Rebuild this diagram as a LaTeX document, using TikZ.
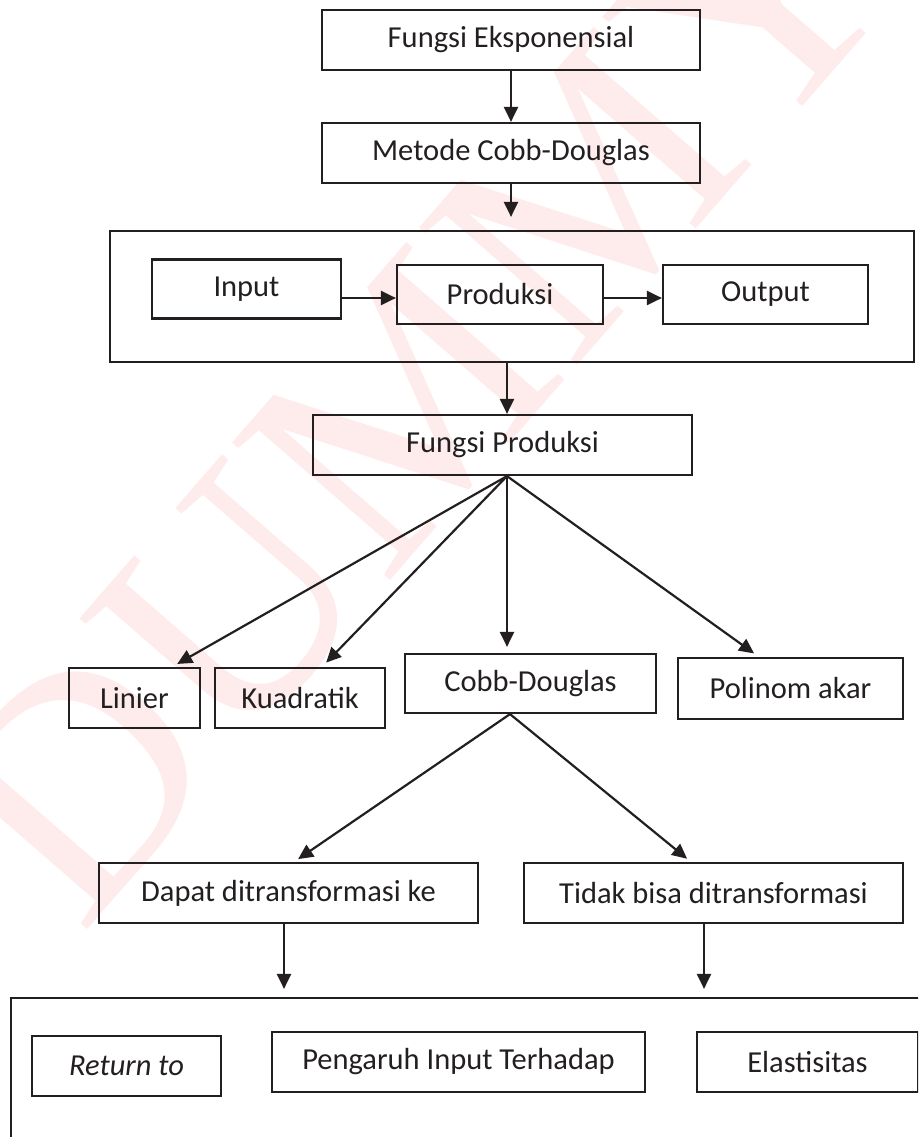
\documentclass[tikz,border=0pt]{standalone}
\usepackage{fontspec}
\setmainfont{Carlito}
\newfontfamily\wmfont{Liberation Serif}
\usetikzlibrary{arrows.meta,positioning,calc}
\definecolor{ink}{HTML}{231F20}
\definecolor{wm}{HTML}{FEECEC}
\tikzset{
  cell/.style={draw=ink, line width=2.2pt, inner sep=0pt, text=ink, font=\fontsize{30.5}{36}\selectfont},
  link/.style={-{Triangle[length=15pt,width=14pt]}, line width=2.2pt, draw=ink},
  gap/.style={shorten >=#1},
}
\begin{document}
\begin{tikzpicture}[x=1pt, y=-1pt]
  \useasboundingbox (0,0) rectangle (918,1137);
  \clip (0,0) rectangle (918,1137);
  \node[rotate=49, text=wm, font=\wmfont\fontsize{320}{320}\selectfont] (wmark) at (418,392) {DUMMY};
  \node[cell, minimum width=378pt, minimum height=60pt] (eksp) at (511,40) {Fungsi Eksponensial};
  \node[cell, minimum width=378pt, minimum height=60pt] (metode) at (511,153) {Metode Cobb-Douglas};
  \node[cell, minimum width=804pt, minimum height=131pt] (proses) at (512,296.5) {};
  \node[cell, minimum width=189pt, minimum height=59pt] (input) at (246.5,289) {Input};
  \node[cell, minimum width=206pt, minimum height=59pt] (prod) at (500,294.5) {Produksi};
  \node[cell, minimum width=205pt, minimum height=59pt] (output) at (765.5,294.5) {Output};
  \node[cell, minimum width=379pt, minimum height=60pt] (fprod) at (502.5,445) {Fungsi Produksi};
  \node[cell, minimum width=131pt, minimum height=60pt] (linier) at (134.5,698) {Linier};
  \node[cell, minimum width=170pt, minimum height=60pt] (kuad) at (300,698) {Kuadratik};
  \node[cell, minimum width=251pt, minimum height=59pt] (cobb) at (530.5,683.5) {Cobb-Douglas};
  \node[cell, minimum width=225pt, minimum height=61pt] (polinom) at (790.5,688.5) {Polinom akar};
  \node[cell, minimum width=379pt, minimum height=60pt] (dapat) at (288.5,893) {Dapat ditransformasi ke};
  \node[cell, minimum width=379pt, minimum height=60pt] (tidak) at (713.5,893) {Tidak bisa ditransformasi};
  \node[cell, minimum width=930pt, minimum height=170pt] (hasil) at (475.6,1083) {};
  \node[cell, minimum width=189pt, minimum height=60pt] (ret) at (126.5,1066) {\itshape Return to};
  \node[cell, minimum width=373pt, minimum height=60pt] (pengaruh) at (458.5,1062) {Pengaruh Input Terhadap};
  \node[cell, minimum width=221pt, minimum height=60pt] (elast) at (807.5,1062) {Elastisitas};
  \coordinate (fork) at ([xshift=4.5pt]fprod.south);
  \coordinate (cfork) at ([xshift=-20.5pt]cobb.south);
  \draw[link] (eksp) -- (metode);
  \draw[link, gap=13pt] (metode.south) -- (metode.south |- proses.north);
  \draw[link] ([yshift=-9pt]input.east) -- ([yshift=-9pt]input.east -| prod.west);
  \draw[link] ([yshift=-3.5pt]prod.east) -- ([yshift=-3.5pt]prod.east -| output.west);
  \draw[link] (fork |- proses.south) -- (fork |- fprod.north);
  \draw[link, gap=6pt] (fork) -- ([xshift=37.5pt]linier.north);
  \draw[link, gap=6pt] (fork) -- ([xshift=22pt]kuad.north);
  \draw[link, gap=6pt] (fork) -- (fork |- cobb.north);
  \draw[link, gap=6pt] (fork) -- ([xshift=-31.5pt]polinom.north);
  \draw[link, gap=5pt] (cfork) -- ([xshift=5.5pt]dapat.north);
  \draw[link, gap=5pt] (cfork) -- ([xshift=-22.5pt]tidak.north);
  \draw[link, gap=8pt] ([xshift=-4.5pt]dapat.south) -- ([xshift=-4.5pt]dapat.south |- hasil.north);
  \draw[link, gap=8pt] ([xshift=-9.5pt]tidak.south) -- ([xshift=-9.5pt]tidak.south |- hasil.north);
\end{tikzpicture}
\end{document}
